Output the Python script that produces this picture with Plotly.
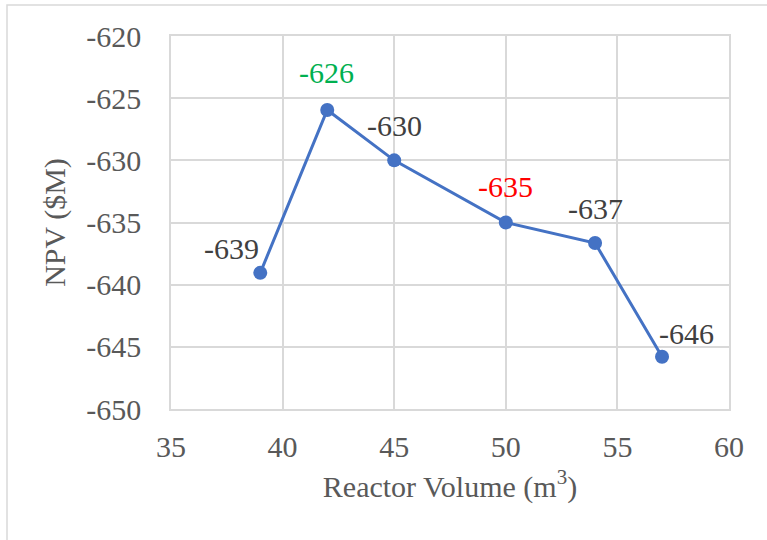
import plotly.graph_objects as go

volume = [39, 42, 45, 50, 54, 57]
npv = [-639.05, -625.95, -630.0, -635.0, -636.65, -645.8]
labels = ["-639", "-626", "-630", "-635", "-637", "-646"]
label_colors = ["#404040", "#00B050", "#404040", "#FF0000", "#404040", "#404040"]
label_dx = [-29, -1, 0, 0, 0, 24]
label_dy = [24, 37, 35, 36, 35, 23]

x_ticks = [35, 40, 45, 50, 55, 60]
y_ticks = [-650, -645, -640, -635, -630, -625, -620]
y_ticktext = ["-650", "-645", "-640", "-635", "-630", "-625", "-620"]

FONT = "Liberation Serif, Times New Roman, serif"
GRID = "#D9D9D9"
FS = 30

fig = go.Figure()
fig.add_trace(go.Scatter(
    x=volume, y=npv, mode="lines+markers",
    line=dict(color="#4472C4", width=3),
    marker=dict(color="#4472C4", size=14),
    hoverinfo="x+y", showlegend=False,
))

for xv, yv, t, c, dx, dy in zip(volume, npv, labels, label_colors, label_dx, label_dy):
    fig.add_annotation(x=xv, y=yv, text=t, showarrow=False,
                       xshift=dx, yshift=dy,
                       font=dict(family=FONT, size=FS, color=c))

L, R, T, B = 171, 38, 36, 131
W, H = 767, 540
pw, ph = W - L - R, H - T - B

fig.add_shape(type="rect", xref="paper", yref="paper",
              x0=(7 - L) / pw, x1=(W + 5 - L) / pw,
              y0=-(H + 5 - (H - B)) / ph, y1=((H - B) - 5) / ph,
              line=dict(color=GRID, width=1.5), fillcolor="rgba(0,0,0,0)",
              layer="below")

fig.update_layout(
    width=W, height=H,
    margin=dict(l=L, r=R, t=T, b=B, pad=0),
    paper_bgcolor="white", plot_bgcolor="white",
    font=dict(family=FONT, size=FS, color="#595959"),
    xaxis=dict(range=[35, 60], tickvals=x_ticks,
               tickfont=dict(family=FONT, size=FS, color="#595959"),
               showgrid=True, gridcolor=GRID, gridwidth=1.5,
               showline=True, linecolor=GRID, linewidth=1.5, mirror=True,
               zeroline=False, ticks="", ticklabelstandoff=10,
               title=dict(text="Reactor Volume (m<sup>3</sup>)", standoff=14,
                          font=dict(family=FONT, size=FS, color="#595959"))),
    yaxis=dict(range=[-650, -620], tickvals=y_ticks, ticktext=y_ticktext,
               tickfont=dict(family=FONT, size=FS, color="#595959"),
               showgrid=True, gridcolor=GRID, gridwidth=1.5,
               showline=True, linecolor=GRID, linewidth=1.5, mirror=True,
               zeroline=False, ticks="", ticklabelstandoff=22,
               title=dict(text="NPV ($M)", standoff=12,
                          font=dict(family=FONT, size=FS, color="#595959"))),
)

fig.write_html("out.html")
